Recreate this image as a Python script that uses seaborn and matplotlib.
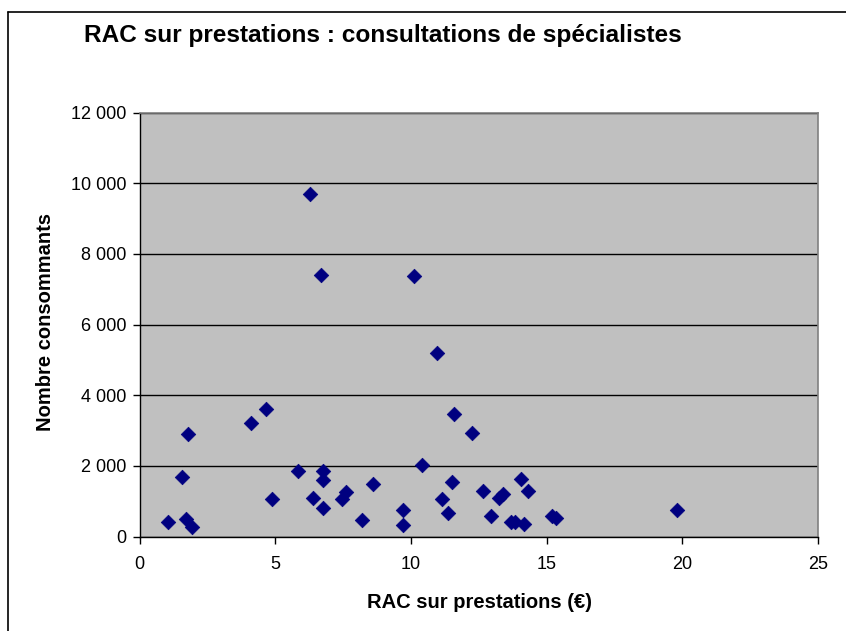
import matplotlib
matplotlib.use("Agg")
import matplotlib.pyplot as plt
from matplotlib.ticker import FuncFormatter, MultipleLocator
from matplotlib.lines import Line2D
import pandas as pd
import seaborn as sns

# RAC sur prestations (EUR) et nombre de consommants
rac = [1.05, 1.55, 1.8, 1.7, 1.95, 4.1, 4.65, 4.9, 5.85, 6.4,
       6.75, 6.75, 6.75, 7.45, 7.6, 8.2, 8.6, 9.7, 9.7, 10.4,
       11.6, 12.25, 11.5, 11.15, 11.35, 12.65, 12.95, 13.25, 13.4, 13.7,
       13.85, 14.05, 14.15, 14.3, 15.2, 15.35, 19.8, 6.3, 6.7, 10.1,
       10.95]
nb_consommants = [420, 1690, 2890, 490, 280, 3220, 3620, 1060, 1840, 1100,
                  1840, 1590, 820, 1060, 1270, 480, 1490, 760, 330, 2020,
                  3480, 2940, 1530, 1060, 660, 1300, 580, 1100, 1200, 420,
                  420, 1640, 360, 1300, 590, 530, 760, 9680, 7400, 7360,
                  5200]

df = pd.DataFrame({"rac": rac, "nb": nb_consommants})

sns.set_style("white")
plt.rcParams["font.family"] = ["Liberation Sans", "DejaVu Sans"]
plt.rcParams["text.color"] = "black"
plt.rcParams["axes.labelcolor"] = "black"
plt.rcParams["xtick.color"] = "black"
plt.rcParams["ytick.color"] = "black"

fig = plt.figure(figsize=(8.46, 6.31), dpi=100)
ax = fig.add_axes([139.5 / 846, 1 - 536.5 / 631, 678.5 / 846, 424 / 631])
ax.set_facecolor("#C0C0C0")

sns.scatterplot(data=df, x="rac", y="nb", ax=ax, marker="D", s=55,
                color="#000080", edgecolor="#000080", linewidth=0.5, zorder=3)

ax.set_xlim(0, 25)
ax.set_ylim(0, 12000)
ax.xaxis.set_major_locator(MultipleLocator(5))
ax.yaxis.set_major_locator(MultipleLocator(2000))
ax.yaxis.set_major_formatter(FuncFormatter(lambda v, p: f"{int(v):,}".replace(",", " ")))
ax.grid(axis="y", color="#000000", linewidth=1, zorder=1)
ax.set_axisbelow(True)

for side in ["top", "right"]:
    ax.spines[side].set_color("#808080")
    ax.spines[side].set_linewidth(1.2)
for side in ["left", "bottom"]:
    ax.spines[side].set_color("#000000")
    ax.spines[side].set_linewidth(1)

ax.tick_params(axis="both", direction="out", length=5, width=1, color="#000000",
               labelsize=13, left=True, bottom=True)
ax.tick_params(axis="y", pad=4.5)
ax.tick_params(axis="x", pad=9)

ax.set_xlabel("RAC sur prestations (€)", fontsize=14.5, fontweight="bold")
ax.set_ylabel("Nombre consommants", fontsize=14.5, fontweight="bold")
ax.xaxis.set_label_coords((479.5 - 139.5) / 678.5, (536.5 - 602) / 424)
ax.yaxis.set_label_coords((46 - 139.5) / 678.5, (536.5 - 322) / 424)
ax.xaxis.label.set_va("center")
ax.yaxis.label.set_va("center")

fig.text(84 / 846, 1 - 42.3 / 631, "RAC sur prestations : consultations de spécialistes",
         fontsize=17.6, fontweight="bold", va="baseline", ha="left")

# cadre du graphique (bords gauche et haut visibles)
fig.add_artist(Line2D([8 / 846, 8 / 846], [0, 1 - 12 / 631], color="#000000",
                      linewidth=1.2, transform=fig.transFigure))
fig.add_artist(Line2D([8 / 846, 1], [1 - 12 / 631, 1 - 12 / 631], color="#000000",
                      linewidth=1.2, transform=fig.transFigure))

fig.savefig("out.png", dpi=100)
